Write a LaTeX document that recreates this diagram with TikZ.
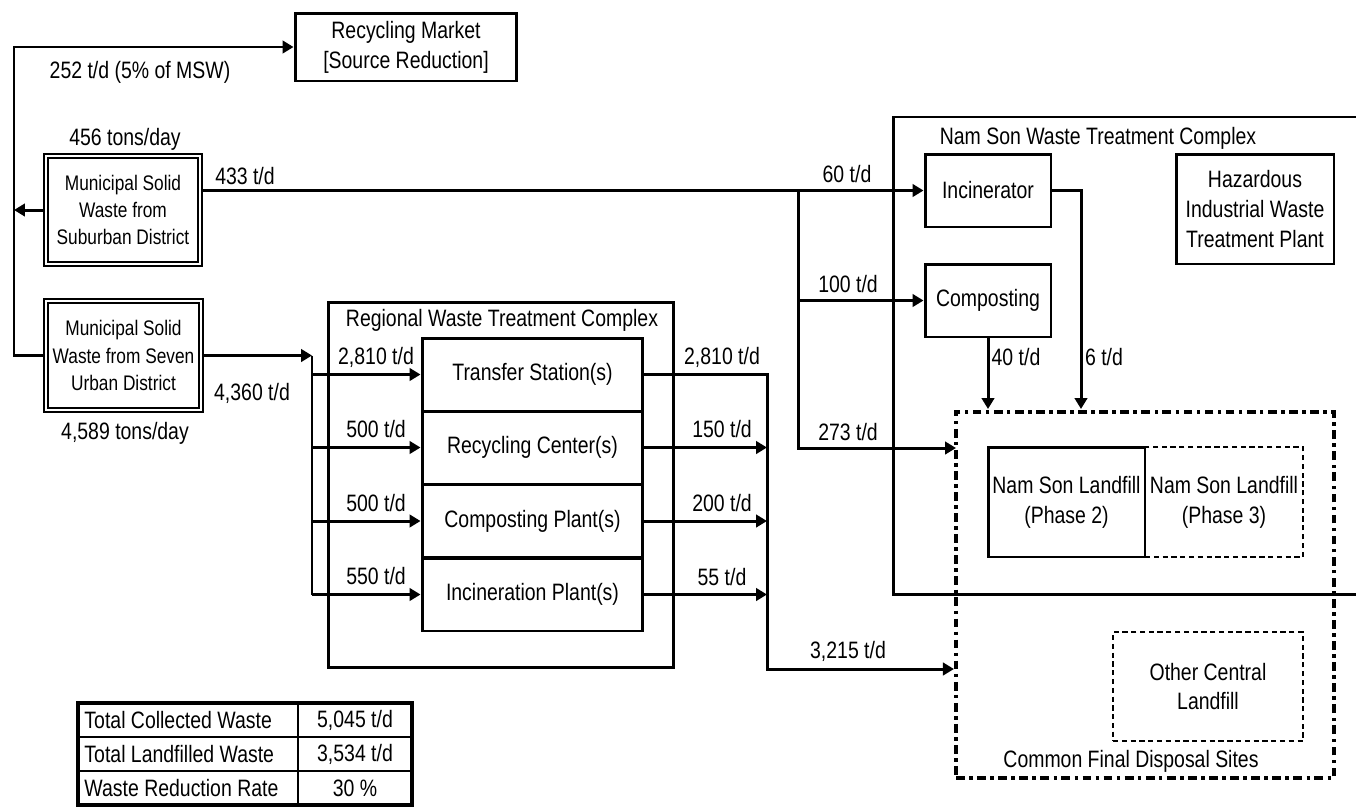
\documentclass[tikz,border=0pt]{standalone}
\usepackage{fontspec}
\setmainfont[FakeStretch=0.82]{Liberation Sans}
\usetikzlibrary{arrows.meta}

\begin{document}
\begin{tikzpicture}[x=0.02cm, y=-0.02cm, line width=1.7pt,
		>={Triangle[length=2.2mm,width=2.5mm]},
		font=\fontsize{13.5}{17}\selectfont,
		box/.style={draw, align=center, inner sep=0pt},
		dbox/.style={draw, double, double distance=1.5pt, line width=1.1pt, align=center, inner sep=0pt, font=\fontsize{12}{15.5}\selectfont},
		dotbox/.style={draw, line width=1.5pt, dash pattern=on 3pt off 2pt, align=center, inner sep=0pt},
		ddbox/.style={draw, line width=2.4pt, dash pattern=on 5pt off 2.5pt on 2pt off 2.5pt},
		lbl/.style={inner sep=0pt}]
		
		\useasboundingbox (0,0) rectangle (1356,809);
		
		\node[box, minimum width=4.44cm, minimum height=1.36cm] (rm) at (406,47) {Recycling Market\\{}[Source Reduction]};
		\node[dbox, minimum width=3.08cm, minimum height=2.16cm] (sub) at (123,210) {Municipal Solid\\Waste from\\Suburban District};
		\node[dbox, minimum width=3.1cm, minimum height=2.18cm] (urb) at (123.5,355.5) {Municipal Solid\\Waste from Seven\\Urban District};
		
		\node[draw, minimum width=6.92cm, minimum height=7.32cm] (reg) at (501,485) {};
		\node[box, minimum width=4.42cm, minimum height=1.46cm] (tr) at (532.5,374.5) {Transfer Station(s)};
		\node[box, minimum width=4.42cm, minimum height=1.46cm] (rc) at (532.5,447.5) {Recycling Center(s)};
		\node[box, minimum width=4.42cm, minimum height=1.46cm] (cp) at (532.5,521) {Composting Plant(s)};
		\node[box, minimum width=4.42cm, minimum height=1.46cm] (ip) at (532.5,594.5) {Incineration Plant(s)};
		
		\draw (1356,117) -- (893,117) -- (893,594) -- (1356,594);
		\node[box, minimum width=2.52cm, minimum height=1.46cm] (inc) at (988,190.5) {Incinerator};
		\node[box, minimum width=2.52cm, minimum height=1.46cm] (cmp) at (988,300.5) {Composting};
		\node[box, minimum width=3.16cm, minimum height=2.2cm] (haz) at (1255,209) {Hazardous\\Industrial Waste\\Treatment Plant};
		
		\node[ddbox, minimum width=7.56cm, minimum height=7.32cm] (cfd) at (1145,595) {};
		\node[dotbox, minimum width=3.16cm, minimum height=2.2cm] (ph3) at (1224,502) {Nam Son Landfill\\(Phase 3)};
		\node[box, minimum width=3.14cm, minimum height=2.2cm] (ph2) at (1066.5,502) {Nam Son Landfill\\(Phase 2)};
		\node[dotbox, minimum width=3.8cm, minimum height=2.18cm] (ocl) at (1208,686.5) {Other Central\\Landfill};
		
		\node[lbl] (l252) at (140,72) {252 t/d (5\% of MSW)};
		\node[lbl] (l456) at (125,139) {456 tons/day};
		\node[lbl] (l433) at (245,176) {433 t/d};
		\node[lbl] (l4589) at (125,433) {4,589 tons/day};
		\node[lbl] (l4360) at (252,393) {4,360 t/d};
		\node[lbl] (lreg) at (502,320) {Regional Waste Treatment Complex};
		\node[lbl] (lns) at (1098,138) {Nam Son Waste Treatment Complex};
		\node[lbl] (lcfd) at (1131,761) {Common Final Disposal Sites};
		\node[lbl] (l60) at (847,174) {60 t/d};
		\node[lbl] (l100) at (848,284) {100 t/d};
		\node[lbl] (l273) at (848,432) {273 t/d};
		\node[lbl] (l40) at (1016,357) {40 t/d};
		\node[lbl] (l6) at (1104,357) {6 t/d};
		\node[lbl] (a2810) at (376,357) {2,810 t/d};
		\node[lbl] (a500) at (376,429) {500 t/d};
		\node[lbl] (b500) at (376,503) {500 t/d};
		\node[lbl] (a550) at (376,576) {550 t/d};
		\node[lbl] (b2810) at (722,357) {2,810 t/d};
		\node[lbl] (a150) at (722,429) {150 t/d};
		\node[lbl] (a200) at (722,503) {200 t/d};
		\node[lbl] (a55) at (722,577) {55 t/d};
		\node[lbl] (l3215) at (848,651) {3,215 t/d};
		
		\coordinate (tl) at (14,47);
		\coordinate (j1) at (798,190.5);
		\coordinate (j2) at (312,355.5);
		\coordinate (j3) at (767,669);
		\coordinate (lf) at (956,448);
		\coordinate (d6) at (1081,409);
		
		\draw[->] (urb.west) -| (tl) -- (rm.west);
		\draw[->] (sub.west) -- (sub.west -| tl);
		\draw[->] (sub.east |- inc.west) -- (inc.west);
		\draw[->] (j1) |- (cmp.west);
		\draw[->] (j1) |- (lf);
		\draw[->] (inc.east) -| (d6);
		\draw[->] (cmp.south) -- (cmp.south |- d6);
		
		\draw[->] (urb.east) -- (j2);
		\draw (j2) -- (j2 |- ip.west);
		\draw[->] (j2 |- tr.west) -- (tr.west);
		\draw[->] (j2 |- rc.west) -- (rc.west);
		\draw[->] (j2 |- cp.west) -- (cp.west);
		\draw[->] (j2 |- ip.west) -- (ip.west);
		
		\draw[->] (tr.east) -| (j3) -- (j3 -| cfd.west);
		\draw[->] (rc.east) -- (rc.east -| j3);
		\draw[->] (cp.east) -- (cp.east -| j3);
		\draw[->] (ip.east) -- (ip.east -| j3);
		
		\draw[line width=2pt] (78,703) rectangle (412,805);
		\draw[line width=1pt] (78,737) -- (412,737);
		\draw[line width=1pt] (78,771) -- (412,771);
		\draw (298,703) -- (298,805);
		\node[lbl, anchor=west] (t1) at (83,720) {Total Collected Waste};
		\node[lbl, anchor=west] (t2) at (83,754) {Total Landfilled Waste};
		\node[lbl, anchor=west] (t3) at (83,788) {Waste Reduction Rate};
		\node[lbl] (v1) at (355,720) {5,045 t/d};
		\node[lbl] (v2) at (355,754) {3,534 t/d};
		\node[lbl] (v3) at (355,788) {30 \%};
		
	\end{tikzpicture}
\end{document}
